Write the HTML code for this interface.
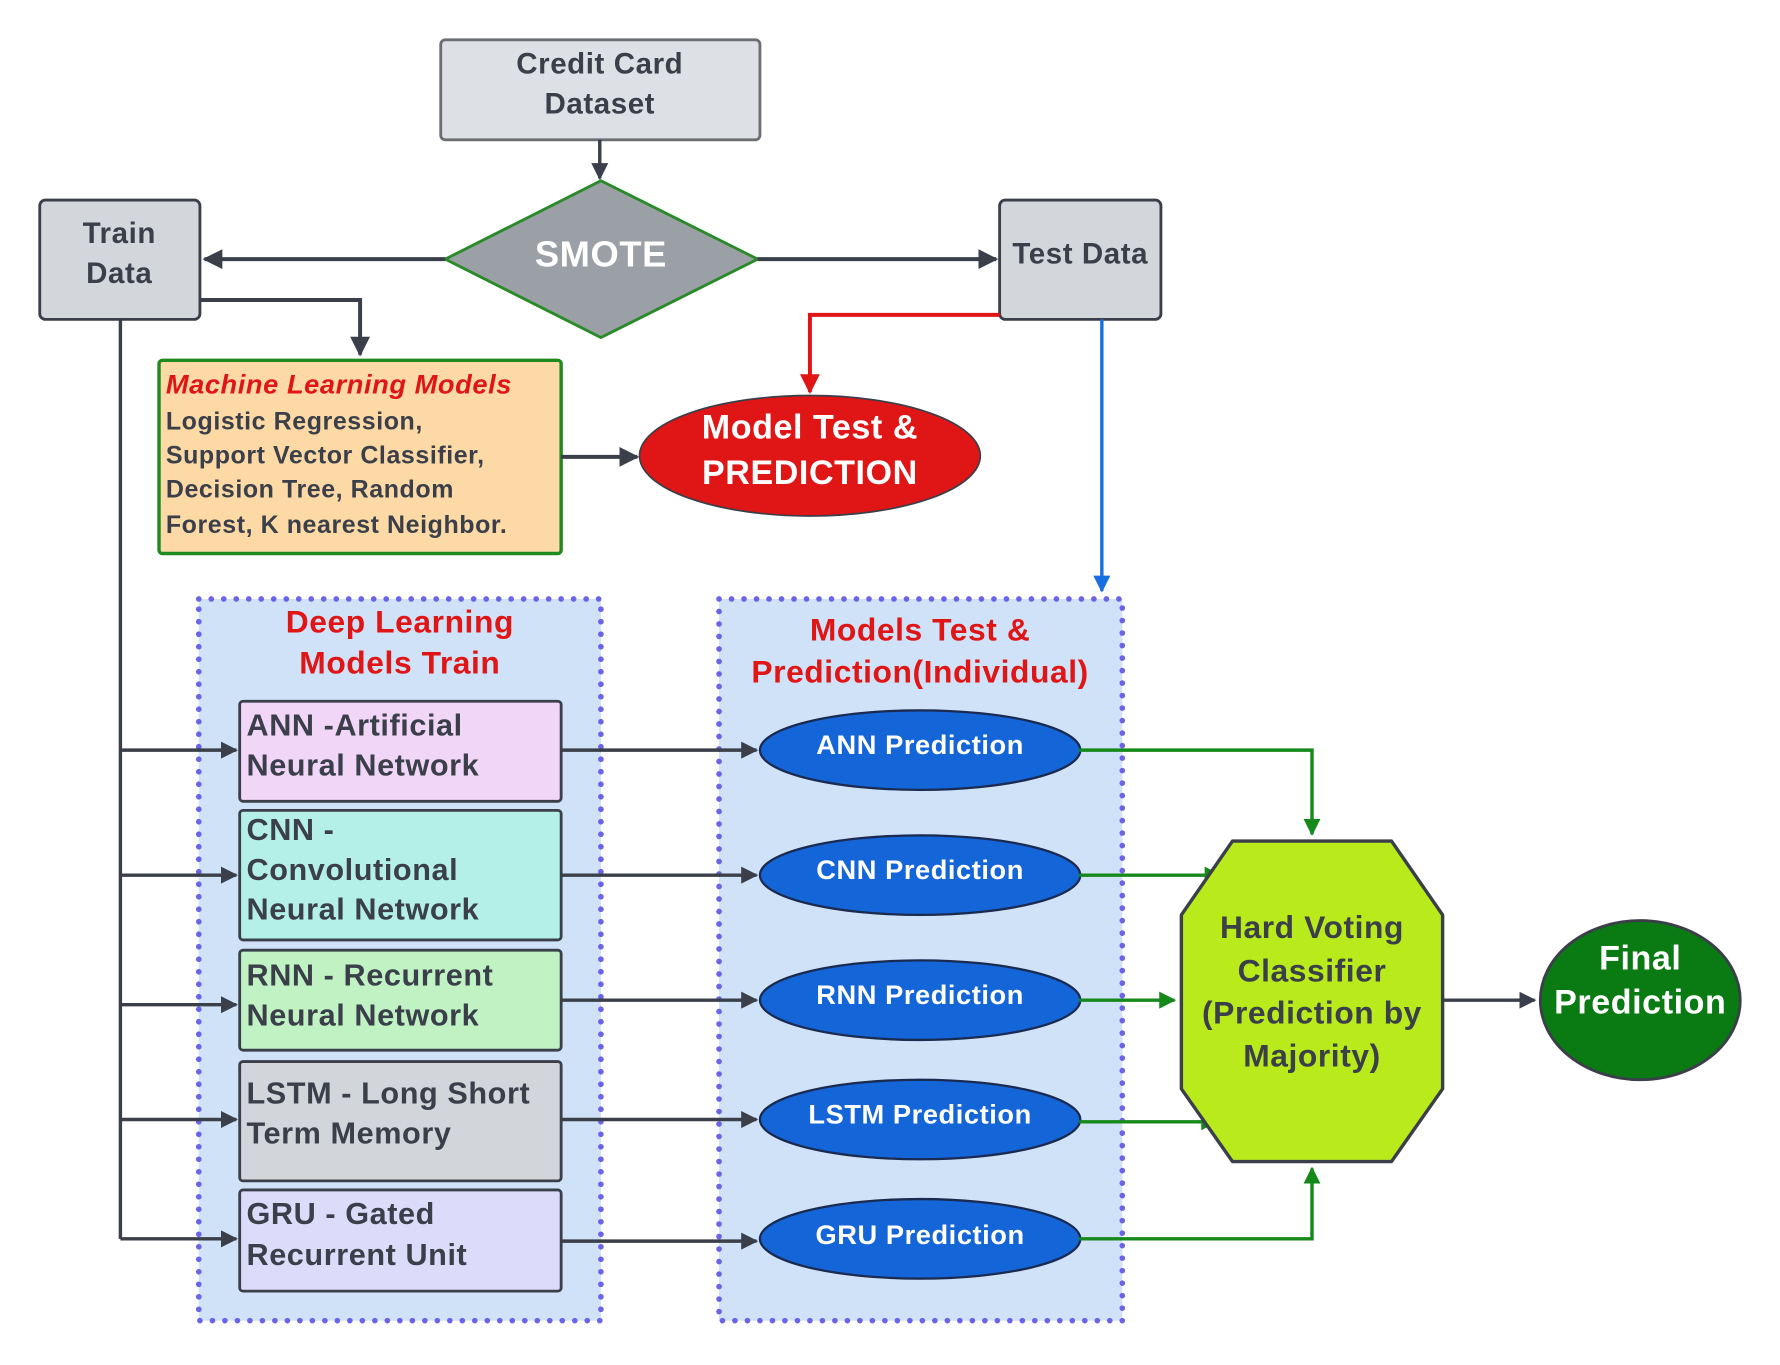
<!DOCTYPE html>
<html><head><meta charset="utf-8"><style>
html,body{margin:0;padding:0;background:#fff;}
svg{display:block;}
text{font-family:"Liberation Sans",Arial,sans-serif;font-weight:bold;dominant-baseline:middle;letter-spacing:0.5px;}
</style></head><body>
<svg width="1780" height="1365" viewBox="0 0 1567 1201" preserveAspectRatio="none" xmlns="http://www.w3.org/2000/svg">
<defs>
<marker id="ad" viewBox="0 0 10 10" refX="9" refY="5" markerWidth="5" markerHeight="5" orient="auto"><path d="M0,0L10,5L0,10z" fill="#3a3f4a"/></marker>
<marker id="ar" viewBox="0 0 10 10" refX="9" refY="5" markerWidth="5" markerHeight="5" orient="auto"><path d="M0,0L10,5L0,10z" fill="#e01515"/></marker>
<marker id="ab" viewBox="0 0 10 10" refX="9" refY="5" markerWidth="5" markerHeight="5" orient="auto"><path d="M0,0L10,5L0,10z" fill="#1a6fe0"/></marker>
<marker id="ag" viewBox="0 0 10 10" refX="9" refY="5" markerWidth="5" markerHeight="5" orient="auto"><path d="M0,0L10,5L0,10z" fill="#15891a"/></marker>
</defs>
<rect x="175" y="527" width="354" height="635" fill="#cfe2f8" stroke="#6b63e8" stroke-width="5" stroke-dasharray="0 11" stroke-linecap="round"/>
<rect x="633" y="527" width="355" height="635" fill="#cfe2f8" stroke="#6b63e8" stroke-width="5" stroke-dasharray="0 11" stroke-linecap="round"/>
<text x="352" y="549" font-size="28" fill="#e01515" text-anchor="middle">Deep Learning</text>
<text x="352" y="585" font-size="28" fill="#e01515" text-anchor="middle">Models Train</text>
<text x="810" y="556" font-size="28" fill="#e01515" text-anchor="middle">Models Test &amp;</text>
<text x="810" y="593" font-size="28" fill="#e01515" text-anchor="middle">Prediction(Individual)</text>

<rect x="388" y="35" width="281" height="88" rx="4" fill="#dde0e4" stroke="#6b6e72" stroke-width="2.5"/>
<text x="528" y="58" font-size="26" fill="#3a3f4a" text-anchor="middle">Credit Card</text>
<text x="528" y="93" font-size="26" fill="#3a3f4a" text-anchor="middle">Dataset</text>
<line x1="528" y1="123" x2="528" y2="157" stroke="#3a3f4a" stroke-width="3" marker-end="url(#ad)"/>
<polygon points="529,159 667,228 529,297 392,228" fill="#9aa0a6" stroke="#2a8a2a" stroke-width="2.5"/>
<text x="529" y="226" font-size="32" fill="#fff" text-anchor="middle">SMOTE</text>
<line x1="392" y1="228" x2="180" y2="228" stroke="#3a3f4a" stroke-width="3.5" marker-end="url(#ad)"/>
<line x1="667" y1="228" x2="877" y2="228" stroke="#3a3f4a" stroke-width="3.5" marker-end="url(#ad)"/>
<rect x="35" y="176" width="141" height="105" rx="5" fill="#d3d7dc" stroke="#3a3f4a" stroke-width="2.5"/>
<text x="105" y="207" font-size="26" fill="#3a3f4a" text-anchor="middle">Train</text>
<text x="105" y="242" font-size="26" fill="#3a3f4a" text-anchor="middle">Data</text>
<rect x="880" y="176" width="142" height="105" rx="5" fill="#d3d7dc" stroke="#3a3f4a" stroke-width="2.5"/>
<text x="951" y="225" font-size="26" fill="#3a3f4a" text-anchor="middle">Test Data</text>

<polyline points="176,264 317,264 317,312" fill="none" stroke="#3a3f4a" stroke-width="3.5" marker-end="url(#ad)"/>
<rect x="140" y="317" width="354" height="170" rx="3" fill="#fcd9a5" stroke="#1f8a1f" stroke-width="3"/>
<text x="146" y="340" font-size="24" fill="#e01515" font-style="italic">Machine Learning Models</text>
<text x="146" y="372" font-size="22" fill="#3a3f4a">Logistic Regression,</text>
<text x="146" y="402" font-size="22" fill="#3a3f4a">Support Vector Classifier,</text>
<text x="146" y="432" font-size="22" fill="#3a3f4a">Decision Tree, Random</text>
<text x="146" y="463" font-size="22" fill="#3a3f4a">Forest, K nearest Neighbor.</text>
<line x1="494" y1="402" x2="561" y2="402" stroke="#3a3f4a" stroke-width="3.5" marker-end="url(#ad)"/>
<ellipse cx="713" cy="401" rx="150" ry="53" fill="#e01515" stroke="#3a3f4a" stroke-width="1.5"/>
<text x="713" y="378" font-size="30" fill="#fff" text-anchor="middle">Model Test &amp;</text>
<text x="713" y="418" font-size="30" fill="#fff" text-anchor="middle">PREDICTION</text>
<polyline points="880,277 713,277 713,345" fill="none" stroke="#e01515" stroke-width="3.5" marker-end="url(#ar)"/>
<line x1="970" y1="281" x2="970" y2="520" stroke="#1a6fe0" stroke-width="3" marker-end="url(#ab)"/>

<line x1="106" y1="281" x2="106" y2="1090" stroke="#3a3f4a" stroke-width="3"/>
<g stroke="#3a3f4a" stroke-width="3" marker-end="url(#ad)">
<line x1="106" y1="660" x2="208" y2="660"/>
<line x1="106" y1="770" x2="208" y2="770"/>
<line x1="106" y1="884" x2="208" y2="884"/>
<line x1="106" y1="985" x2="208" y2="985"/>
<line x1="106" y1="1090" x2="208" y2="1090"/>
<line x1="494" y1="660" x2="666" y2="660"/>
<line x1="494" y1="770" x2="666" y2="770"/>
<line x1="494" y1="880" x2="666" y2="880"/>
<line x1="494" y1="985" x2="666" y2="985"/>
<line x1="494" y1="1092" x2="666" y2="1092"/>
<line x1="1270" y1="880" x2="1351" y2="880"/>
</g>

<g stroke="#3a3f4a" stroke-width="2.5">
<rect x="211" y="617" width="283" height="88" rx="3" fill="#f1d6f8"/>
<rect x="211" y="713" width="283" height="114" rx="3" fill="#b4f0e8"/>
<rect x="211" y="836" width="283" height="88" rx="3" fill="#c0f2c4"/>
<rect x="211" y="934" width="283" height="105" rx="3" fill="#d2d5da"/>
<rect x="211" y="1047" width="283" height="89" rx="3" fill="#dcdcfa"/>
</g>
<g font-size="27" fill="#3a3f4a">
<text x="217" y="640">ANN -Artificial</text>
<text x="217" y="675">Neural Network</text>
<text x="217" y="732">CNN -</text>
<text x="217" y="767">Convolutional</text>
<text x="217" y="802">Neural Network</text>
<text x="217" y="860">RNN - Recurrent</text>
<text x="217" y="895">Neural Network</text>
<text x="217" y="964">LSTM - Long Short</text>
<text x="217" y="999">Term Memory</text>
<text x="217" y="1070">GRU - Gated</text>
<text x="217" y="1106">Recurrent Unit</text>
</g>

<g fill="#1466d8" stroke="#1a2a50" stroke-width="2">
<ellipse cx="810" cy="660" rx="141" ry="35"/>
<ellipse cx="810" cy="770" rx="141" ry="35"/>
<ellipse cx="810" cy="880" rx="141" ry="35"/>
<ellipse cx="810" cy="985" rx="141" ry="35"/>
<ellipse cx="810" cy="1090" rx="141" ry="35"/>
</g>
<g font-size="24" fill="#fff" text-anchor="middle">
<text x="810" y="657">ANN Prediction</text>
<text x="810" y="767">CNN Prediction</text>
<text x="810" y="877">RNN Prediction</text>
<text x="810" y="982">LSTM Prediction</text>
<text x="810" y="1088">GRU Prediction</text>
</g>

<g fill="none" stroke="#15891a" stroke-width="3" marker-end="url(#ag)">
<polyline points="950,660 1155,660 1155,734"/>
<line x1="950" y1="770" x2="1074" y2="770"/>
<line x1="950" y1="880" x2="1034" y2="880"/>
<line x1="950" y1="987" x2="1071" y2="987"/>
<polyline points="950,1090 1155,1090 1155,1028"/>
</g>

<polygon points="1085,740 1225,740 1270,805 1270,958 1225,1022 1085,1022 1040,958 1040,805" fill="#b8ea1c" stroke="#3a3f4a" stroke-width="3" stroke-linejoin="round"/>
<g font-size="28" fill="#3a3f4a" text-anchor="middle">
<text x="1155" y="818">Hard Voting</text>
<text x="1155" y="856">Classifier</text>
<text x="1155" y="893">(Prediction by</text>
<text x="1155" y="931">Majority)</text>
</g>
<ellipse cx="1444" cy="880" rx="88" ry="70" fill="#0a7a12" stroke="#3a3f4a" stroke-width="2.5"/>
<text x="1444" y="845" font-size="30" fill="#fff" text-anchor="middle">Final</text>
<text x="1444" y="884" font-size="30" fill="#fff" text-anchor="middle">Prediction</text>
</svg>
</body></html>
